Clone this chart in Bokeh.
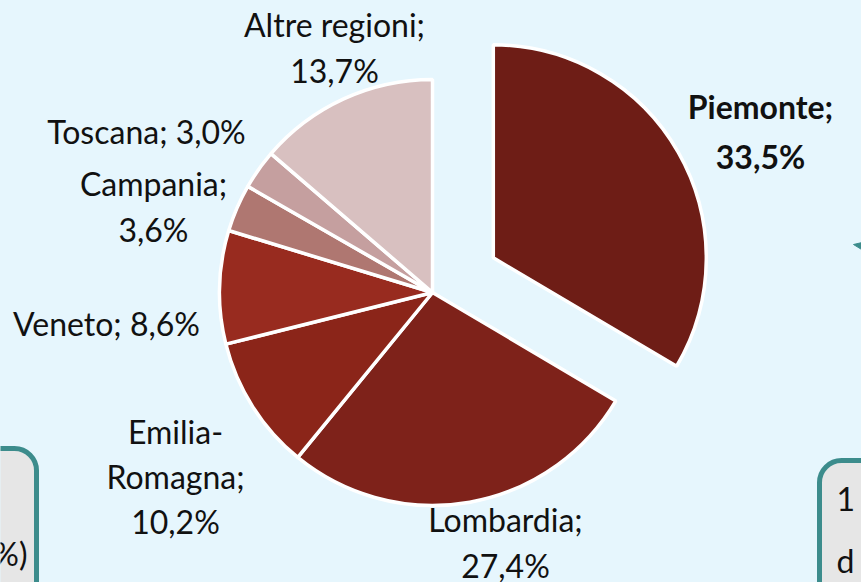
from math import pi, cos, sin
from bokeh.plotting import figure
from bokeh.models import ColumnDataSource, GlobalInlineStyleSheet
from bokeh.core.properties import value
from bokeh.embed import file_html
from bokeh.resources import INLINE

# ---- data ----
regions = ["Piemonte", "Lombardia", "Emilia-Romagna", "Veneto", "Campania", "Toscana", "Altre regioni"]
shares = [33.5, 27.4, 10.2, 8.6, 3.6, 3.0, 13.7]
colors = ["#6E1D16", "#7E221A", "#8B2519", "#982B1F", "#AF7771", "#C59F9F", "#D8C0C0"]
label_lines = [["Piemonte;"], ["Lombardia;"], ["Emilia-", "Romagna;"], ["Veneto;"], ["Campania;"], ["Toscana;"], ["Altre regioni;"]]
pct_on_same_line = [False, False, False, True, False, True, False]

BG = "#E6F6FD"
W, H = 861, 582
FONT = "Lato"
FS = 32

p = figure(width=W, height=H, x_range=(0, W), y_range=(0, H),
           output_backend="svg", toolbar_location=None, min_border=0,
           x_axis_type=None, y_axis_type=None,
           background_fill_color=BG, border_fill_color=BG, outline_line_color=None)
p.grid.visible = False
p.stylesheets = [GlobalInlineStyleSheet(css=f"body{{margin:0;background:{BG};overflow:hidden}}")]

def Y(y):  # page y (top-down) -> data y
    return H - y

# ---- pie ----
cx, cy, R = 432, Y(292), 213
explode = [70, 0, 0, 0, 0, 0, 0]
total = sum(shares)
xs, ys, sa, ea = [], [], [], []
cum = 0.0
for s, ex in zip(shares, explode):
    a0 = pi / 2 - 2 * pi * cum / total
    a1 = pi / 2 - 2 * pi * (cum + s) / total
    mid = (a0 + a1) / 2
    xs.append(cx + ex * cos(mid))
    ys.append(cy + ex * sin(mid))
    sa.append(a1)
    ea.append(a0)
    cum += s
src = ColumnDataSource(dict(x=xs, y=ys, start=sa, end=ea, color=colors))
p.wedge(x="x", y="y", radius=R, start_angle="start", end_angle="end",
        fill_color="color", line_color="white", line_width=3.5, source=src)

# ---- labels ----
def fmt(v):
    return f"{v:.1f}%".replace(".", ",")

texts = []
for lines, v, same in zip(label_lines, shares, pct_on_same_line):
    if same:
        texts.append(lines[0] + " " + fmt(v))
    else:
        texts.append("\n".join(lines + [fmt(v)]))

label_pos = [(760, 131), (505, 542), (175, 476), (106, 323), (153, 206), (146, 131), (334, 47)]
lsrc = ColumnDataSource(dict(x=[q[0] for q in label_pos[1:]], y=[Y(q[1]) for q in label_pos[1:]], t=texts[1:]))
p.text(x="x", y="y", text="t", source=lsrc, text_font=value(FONT), text_font_size=f"{FS}px",
       text_color="#111111", text_align="center", text_baseline="middle", text_line_height=1.156)
psrc = ColumnDataSource(dict(x=[label_pos[0][0]], y=[Y(label_pos[0][1])], t=[texts[0]]))
p.text(x="x", y="y", text="t", source=psrc, text_font=value(FONT), text_font_size=f"{FS}px",
       text_font_style="bold", text_color="#111111", text_align="center", text_baseline="middle",
       text_line_height=1.285)

# ---- partial side boxes (cropped neighbours) ----
TEAL = "#3C8C8C"
p.quad(left=[-60, 819], right=[36, 940], top=[Y(448), Y(460)], bottom=[Y(650), Y(650)],
       fill_color="#E6E6E6", line_color=TEAL, line_width=5, border_radius=22)
p.text(x=[27], y=[Y(553)], text=["%)"], text_font=value(FONT), text_font_size=f"{FS}px",
       text_color="#111111", text_align="right", text_baseline="middle")
p.text(x=[836, 836], y=[Y(498), Y(560)], text=["1", "d"], text_font=value(FONT), text_font_size=f"{FS}px",
       text_color="#111111", text_align="left", text_baseline="middle")
p.patch(x=[853, 866, 866], y=[Y(244), Y(241), Y(252)], fill_color=TEAL, line_color=TEAL)

open("out.html", "w").write(file_html(p, INLINE))
